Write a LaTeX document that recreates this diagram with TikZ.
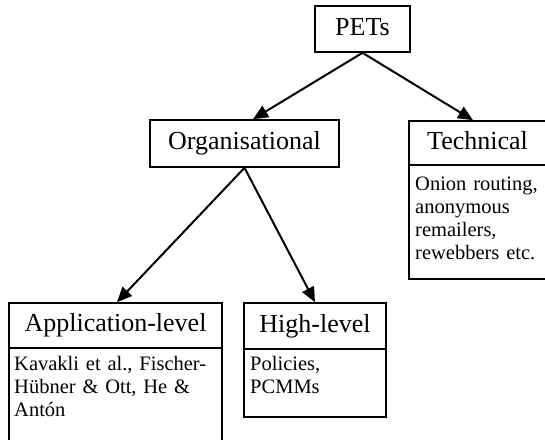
\documentclass[tikz,border=0pt]{standalone}
\usepackage{fontspec}
\setmainfont{Liberation Serif}
\usetikzlibrary{arrows.meta,positioning}

\tikzset{
  headbox/.style={draw, line width=1.6pt, inner sep=0pt, anchor=center,
    font=\fontsize{26}{30}\selectfont, text height=17pt, text depth=5pt},
  bodybox/.style={draw, line width=1.6pt},
  bodytext/.style={inner sep=0pt, anchor=base west, align=left,
    font=\fontsize{20.5}{23}\selectfont},
  link/.style={line width=2pt, -{Triangle[length=15pt,width=13pt]}}
}

\begin{document}
\begin{tikzpicture}[x=1pt,y=-1pt]
  \useasboundingbox (0,0) rectangle (545,439);
  \clip (0,0) rectangle (545,439);

  % root
  \node[headbox, minimum width=95pt, minimum height=46pt] (pets) at (362.5,29) {PETs};

  % second level
  \node[headbox, minimum width=189pt, minimum height=47pt] (org) at (244.5,143.5) {Organisational};
  \node[headbox, minimum width=137pt, minimum height=44pt] (tech) at (477.5,143) {Technical};
  \draw[bodybox] (409,165) rectangle (546,279);
  \node[bodytext, text width=130pt] (techtxt) at (415,190)
    {Onion routing,\\anonymous\\remailers,\\rewebbers etc.};

  % third level
  \node[headbox, minimum width=213pt, minimum height=45pt] (app) at (115.5,325.5) {Application-level};
  \draw[bodybox] (9,348) rectangle (222,446);
  \node[bodytext, text width=205pt] (apptxt) at (14,370)
    {Kavakli et al., Fischer-\\H\"ubner \& Ott, He \&\\Ant\'on};

  \node[headbox, minimum width=142pt, minimum height=46pt] (high) at (315,326) {High-level};
  \draw[bodybox] (244,349) rectangle (386,417);
  \node[bodytext, text width=130pt] (hightxt) at (250,370)
    {Policies,\\PCMMs};

  % connectors
  \draw[link] (pets.south) -- ([xshift=8.5pt]org.north);
  \draw[link] (pets.south) -- ([xshift=-4.5pt]tech.north);
  \draw[link] (org.south) -- ([xshift=1.5pt]app.north);
  \draw[link] (org.south) -- (high.north);
\end{tikzpicture}
\end{document}
